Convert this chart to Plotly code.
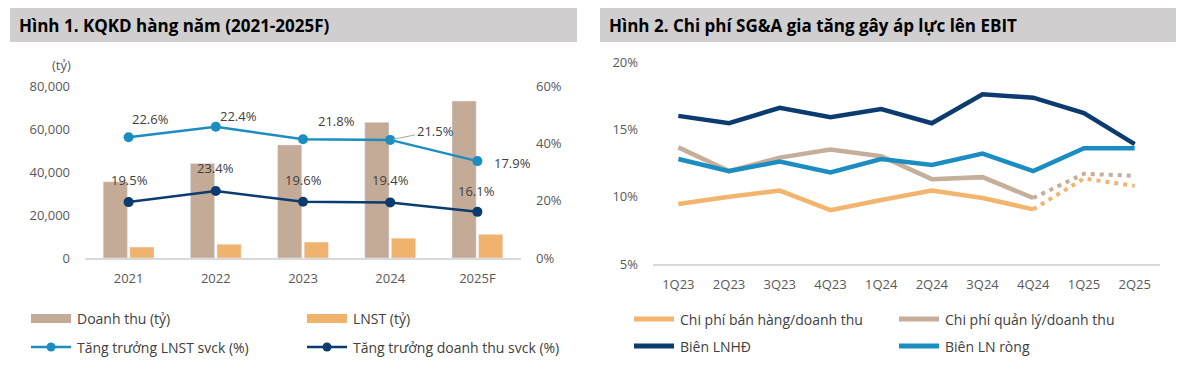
import plotly.graph_objects as go

# ---------------- data: Figure 1 ----------------
years = ["2021", "2022", "2023", "2024", "2025F"]
revenue = [35500, 44000, 52600, 63100, 73000]           # Doanh thu (tỷ)
npat = [5100, 6400, 7400, 9200, 11000]                   # LNST (tỷ)
npat_growth_plot = [42.1, 45.8, 41.4, 41.2, 33.8]        # plotted position of LNST growth line
npat_growth_labels = ["22.6%", "22.4%", "21.8%", "21.5%", "17.9%"]
rev_growth = [19.5, 23.4, 19.6, 19.4, 16.1]              # Tăng trưởng doanh thu svck (%)
rev_growth_labels = ["19.5%", "23.4%", "19.6%", "19.4%", "16.1%"]
left_names = ["Doanh thu (tỷ)", "LNST (tỷ)", "Tăng trưởng LNST svck (%)", "Tăng trưởng doanh thu svck (%)"]
left_yticks = [0, 20000, 40000, 60000, 80000]
left_yticktext = ["0", "20,000", "40,000", "60,000", "80,000"]
left_y2ticks = [0, 20, 40, 60]
left_y2ticktext = ["0%", "20%", "40%", "60%"]

# ---------------- data: Figure 2 ----------------
quarters = ["1Q23", "2Q23", "3Q23", "4Q23", "1Q24", "2Q24", "3Q24", "4Q24", "1Q25", "2Q25"]
selling = [9.45, 10.0, 10.45, 9.0, 9.75, 10.45, 9.9, 9.06]       # Chi phí bán hàng/doanh thu (actual)
selling_fc = [9.06, 11.35, 10.8]                                    # forecast 4Q24-2Q25
admin = [13.66, 11.9, 12.9, 13.5, 13.0, 11.3, 11.45, 9.9]           # Chi phí quản lý/doanh thu (actual)
admin_fc = [9.9, 11.7, 11.55]
op_margin = [16.0, 15.45, 16.6, 15.9, 16.5, 15.45, 17.6, 17.35, 16.2, 13.9]   # Biên LNHĐ
net_margin = [12.8, 11.9, 12.6, 11.8, 12.8, 12.35, 13.2, 11.9, 13.6, 13.6]    # Biên LN ròng
right_names = ["Chi phí bán hàng/doanh thu", "Chi phí quản lý/doanh thu", "Biên LNHĐ", "Biên LN ròng"]
right_yticks = [5, 10, 15, 20]
right_yticktext = ["5%", "10%", "15%", "20%"]

titles = ["Hình 1. KQKD hàng năm (2021-2025F)", "Hình 2. Chi phí SG&A gia tăng gây áp lực lên EBIT"]

# ---------------- style ----------------
W, H = 1186, 369
FONT = "Open Sans"
C_REV = "#c4ab97"
C_NPAT = "#f0b36d"
C_LB = "#1b8dc1"
C_NAVY = "#0c3b6f"
C_SELL = "#f3b46e"
C_ADM = "#c5af9b"
C_TXT = "#404040"
C_TICK = "#595959"
C_AXIS = "#d9d9d9"


def px_x(p):
    return p / W


def px_y(p):
    return 1 - p / H


fig = go.Figure()

# --- left chart traces ---
fig.add_trace(go.Bar(x=years, y=revenue, name=left_names[0], marker_color=C_REV,
                     xaxis="x", yaxis="y", showlegend=False))
fig.add_trace(go.Bar(x=years, y=npat, name=left_names[1], marker_color=C_NPAT,
                     xaxis="x", yaxis="y", showlegend=False))
fig.add_trace(go.Scatter(x=years, y=npat_growth_plot, name=left_names[2], mode="lines+markers",
                         line=dict(color=C_LB, width=2.5), marker=dict(size=10, color=C_LB),
                         xaxis="x", yaxis="y2", showlegend=False))
fig.add_trace(go.Scatter(x=years, y=rev_growth, name=left_names[3], mode="lines+markers",
                         line=dict(color=C_NAVY, width=2.5), marker=dict(size=10, color=C_NAVY),
                         xaxis="x", yaxis="y2", showlegend=False))

# --- right chart traces ---
n_act = len(selling)
fig.add_trace(go.Scatter(x=quarters[:n_act], y=selling, name=right_names[0], mode="lines",
                         line=dict(color=C_SELL, width=4.5), xaxis="x3", yaxis="y3", showlegend=False))
fig.add_trace(go.Scatter(x=quarters[n_act - 1:], y=selling_fc, name=right_names[0] + " (F)", mode="lines",
                         line=dict(color=C_SELL, width=4, dash="4px,5px"), xaxis="x3", yaxis="y3", showlegend=False))
fig.add_trace(go.Scatter(x=quarters[:n_act], y=admin, name=right_names[1], mode="lines",
                         line=dict(color=C_ADM, width=4.5), xaxis="x3", yaxis="y3", showlegend=False))
fig.add_trace(go.Scatter(x=quarters[n_act - 1:], y=admin_fc, name=right_names[1] + " (F)", mode="lines",
                         line=dict(color=C_ADM, width=4, dash="4px,5px"), xaxis="x3", yaxis="y3", showlegend=False))
fig.add_trace(go.Scatter(x=quarters, y=op_margin, name=right_names[2], mode="lines",
                         line=dict(color=C_NAVY, width=4.5), xaxis="x3", yaxis="y3", showlegend=False))
fig.add_trace(go.Scatter(x=quarters, y=net_margin, name=right_names[3], mode="lines",
                         line=dict(color=C_LB, width=4.5), xaxis="x3", yaxis="y3", showlegend=False))

tickfont = dict(family=FONT, size=13, color=C_TICK)

fig.update_layout(
    width=W, height=H, autosize=False,
    margin=dict(l=0, r=0, t=0, b=0, pad=0, autoexpand=False),
    paper_bgcolor="white", plot_bgcolor="rgba(0,0,0,0)",
    font=dict(family=FONT, size=13, color=C_TXT),
    barmode="group", bargap=0.39, bargroupgap=0.09,
    showlegend=False,
    xaxis=dict(domain=[px_x(85), px_x(521)], anchor="y", type="category", categoryorder="array",
               categoryarray=years, range=[-0.5, len(years) - 0.5], showgrid=False, zeroline=False,
               showline=True, linecolor=C_AXIS, linewidth=1.5, ticks="", tickfont=tickfont,
               ticklabelstandoff=8, fixedrange=True),
    yaxis=dict(domain=[px_y(258), px_y(86)], range=[0, 80000], tickmode="array", tickvals=left_yticks,
               ticktext=left_yticktext, showgrid=False, zeroline=False, showline=False, ticks="",
               tickfont=tickfont, ticklabelstandoff=14, fixedrange=True),
    yaxis2=dict(overlaying="y", side="right", anchor="x", range=[0, 60], tickmode="array",
                tickvals=left_y2ticks, ticktext=left_y2ticktext, showgrid=False, zeroline=False,
                showline=False, ticks="", tickfont=tickfont, ticklabelstandoff=14, fixedrange=True),
    xaxis3=dict(domain=[px_x(653), px_x(1160)], anchor="y3", type="category", showgrid=False, zeroline=False,
                showline=True, linecolor=C_AXIS, linewidth=1.5, ticks="", tickfont=tickfont,
                ticklabelstandoff=8, range=[-0.5, len(quarters) - 0.5], fixedrange=True),
    yaxis3=dict(domain=[px_y(264), px_y(62)], anchor="x3", range=[5, 20], tickmode="array",
                tickvals=right_yticks, ticktext=right_yticktext, showgrid=False, zeroline=False,
                showline=False, ticks="", tickfont=tickfont, ticklabelstandoff=14, fixedrange=True),
)

shapes = []
annotations = []

# title bars
for (x0, x1), title in zip([(10, 577), (600, 1176)], titles):
    shapes.append(dict(type="rect", xref="paper", yref="paper", x0=px_x(x0), x1=px_x(x1),
                       y0=px_y(42), y1=px_y(8), fillcolor="#d0cece", line=dict(width=0), layer="below"))
    annotations.append(dict(text="<b>" + title + "</b>", xref="paper", yref="paper", x=px_x(x0 + 7),
                            y=px_y(25), xanchor="left", yanchor="middle", showarrow=False,
                            font=dict(family=FONT, size=17, color="#000000")))

# unit label
annotations.append(dict(text="(tỷ)", xref="paper", yref="paper", x=px_x(61), y=px_y(65),
                        xanchor="center", yanchor="middle", showarrow=False, font=tickfont))

# data labels (pixel offsets relative to the point); x given as category index
lab_font = dict(family=FONT, size=13, color=C_TXT)
lb_offsets = [(22, 18), (22.5, 11), (33.5, 18), None, (35.5, -2)]
for i, (yv, lab, off) in enumerate(zip(npat_growth_plot, npat_growth_labels, lb_offsets)):
    if off is None:
        annotations.append(dict(text=lab, x=i, y=yv, xref="x", yref="y2", showarrow=True,
                                arrowhead=0, arrowwidth=1, arrowcolor="#a6a6a6", ax=45, ay=-9,
                                standoff=3, font=lab_font))
    else:
        annotations.append(dict(text=lab, x=i, y=yv, xref="x", yref="y2", showarrow=False,
                                xshift=off[0], yshift=off[1], font=lab_font))
nv_offsets = [(1, 22), (0, 23), (0, 22), (0, 22.5), (-1, 21)]
for i, (yv, lab, off) in enumerate(zip(rev_growth, rev_growth_labels, nv_offsets)):
    annotations.append(dict(text=lab, x=i, y=yv, xref="x", yref="y2", showarrow=False,
                            xshift=off[0], yshift=off[1], font=lab_font))

# ---- left manual legend ----
leg_font = dict(family=FONT, size=14, color=C_TXT)
left_legend = [
    (31, 318.5, "bar", C_REV, left_names[0]),
    (307, 318.5, "bar", C_NPAT, left_names[1]),
    (31, 347, "line", C_LB, left_names[2]),
    (307, 347, "line", C_NAVY, left_names[3]),
]
for x0, yc, kind, col, name in left_legend:
    if kind == "bar":
        shapes.append(dict(type="rect", xref="paper", yref="paper", x0=px_x(x0), x1=px_x(x0 + 40),
                           y0=px_y(yc + 4.5), y1=px_y(yc - 4.5), fillcolor=col, line=dict(width=0)))
    else:
        shapes.append(dict(type="line", xref="paper", yref="paper", x0=px_x(x0), x1=px_x(x0 + 40),
                           y0=px_y(yc), y1=px_y(yc), line=dict(color=col, width=2.5)))
        shapes.append(dict(type="circle", xref="paper", yref="paper", x0=px_x(x0 + 15.5), x1=px_x(x0 + 24.5),
                           y0=px_y(yc + 4.5), y1=px_y(yc - 4.5), fillcolor=col, line=dict(width=0)))
    annotations.append(dict(text=name, xref="paper", yref="paper", x=px_x(x0 + 44), y=px_y(yc),
                            xanchor="left", yanchor="middle", showarrow=False, font=leg_font))

# ---- right manual legend ----
right_legend = [
    (632, 319, C_SELL, right_names[0]),
    (897, 319, C_ADM, right_names[1]),
    (632, 346, C_NAVY, right_names[2]),
    (897, 346, C_LB, right_names[3]),
]
for x0, yc, col, name in right_legend:
    shapes.append(dict(type="line", xref="paper", yref="paper", x0=px_x(x0 + 2), x1=px_x(x0 + 42),
                       y0=px_y(yc), y1=px_y(yc), line=dict(color=col, width=5)))
    annotations.append(dict(text=name, xref="paper", yref="paper", x=px_x(x0 + 46), y=px_y(yc),
                            xanchor="left", yanchor="middle", showarrow=False, font=leg_font))

fig.update_layout(shapes=shapes, annotations=annotations)

fig.write_html("out.html", config={"displayModeBar": False},
               post_script="document.body.style.margin='0';")
